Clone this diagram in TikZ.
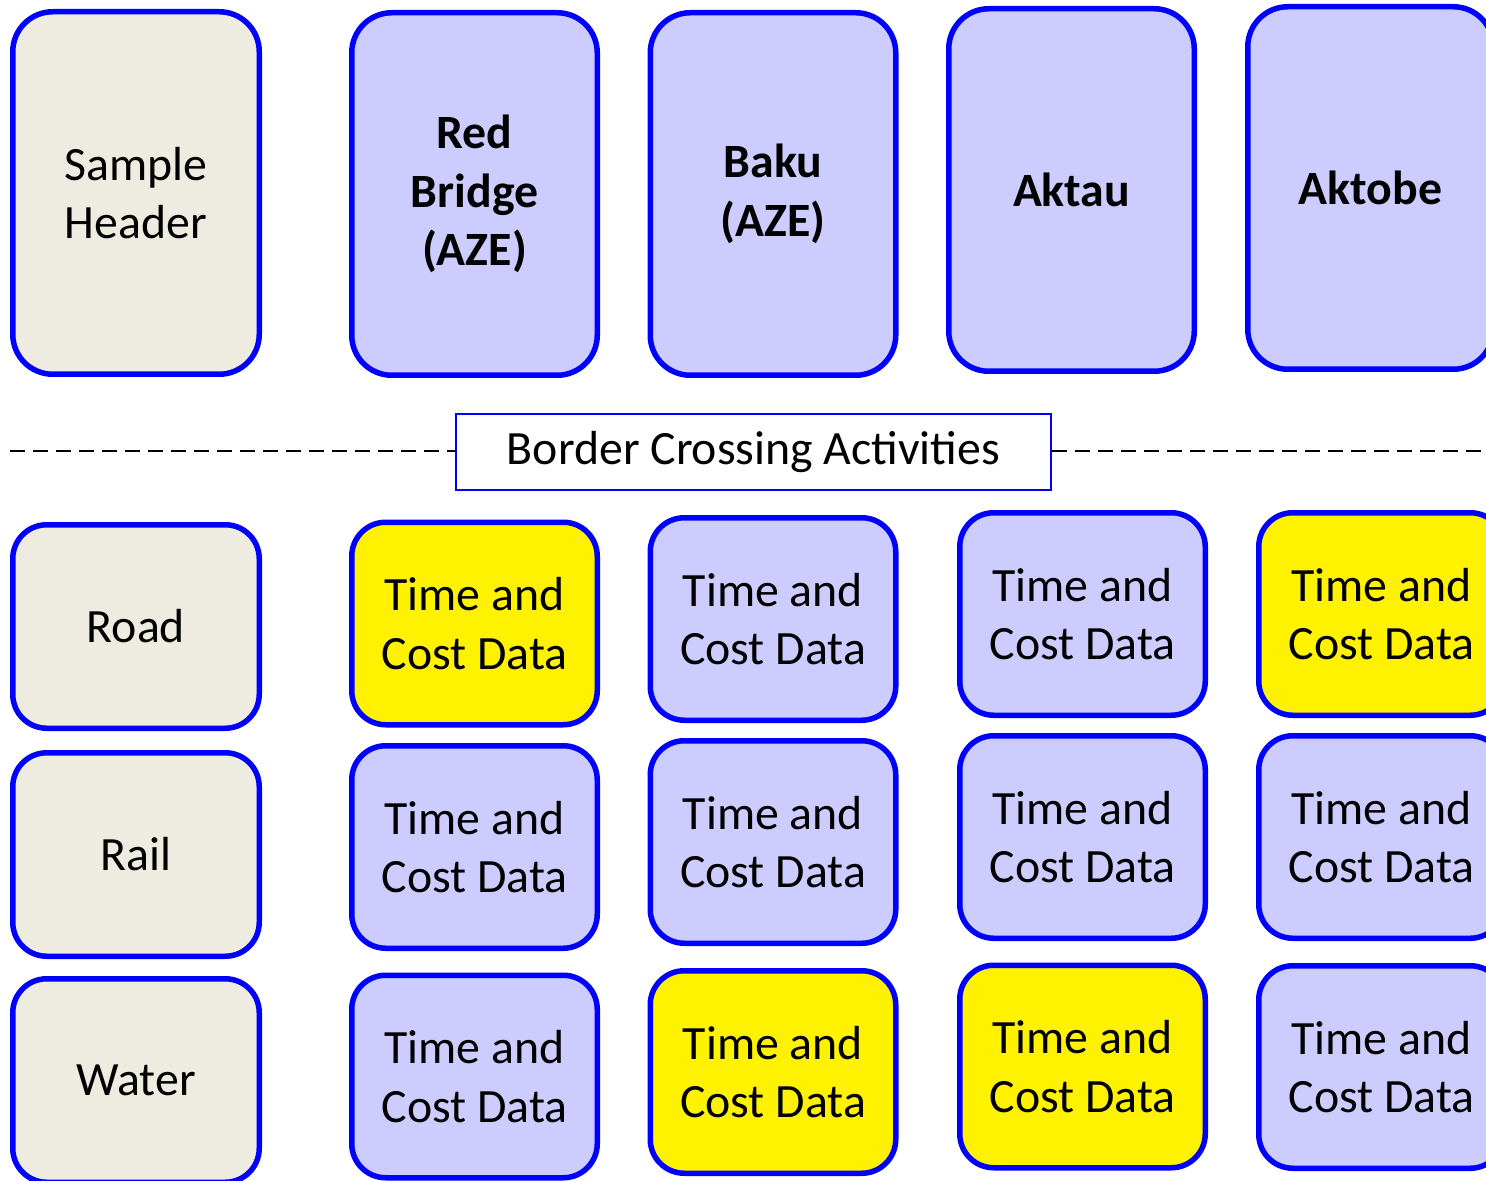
\documentclass[tikz,border=0pt]{standalone}
\usepackage{fontspec}
\setmainfont{Carlito}
\definecolor{modefill}{RGB}{238,236,225}
\definecolor{sitefill}{RGB}{204,204,255}
\definecolor{boxblue}{RGB}{0,0,255}

\begin{document}
\begin{tikzpicture}[x=0.5pt,y=-0.5pt,
  roundbox/.style={draw=boxblue,line width=2.75pt,rounded corners=17pt,align=center,inner sep=0pt,font=\fontsize{23.9}{29.3}\selectfont},
  modebox/.style={roundbox,fill=modefill,minimum width=123.25pt,minimum height=101.75pt},
  sitebox/.style={roundbox,fill=sitefill,minimum width=122.75pt,minimum height=181.25pt,rounded corners=20pt,font=\fontsize{23.9}{29.3}\selectfont\bfseries},
  databox/.style={roundbox,fill=sitefill,minimum width=122.75pt,minimum height=101.25pt},
  hotbox/.style={databox,fill=yellow},
  divider/.style={draw=black,line width=0.9pt,dash pattern=on 7.5pt off 4pt}]
\useasboundingbox (0,0) rectangle (1486,1181);

% header row
\node[roundbox,fill=modefill,minimum width=123.25pt,minimum height=181.25pt,rounded corners=20pt] (sample) at (136,193) {Sample\\Header};
\node[sitebox] (redbridge) at (474.5,194) {Red\\Bridge\\(AZE)};
\node[sitebox] (baku) at (773,194) {Baku\\(AZE)};
\node[sitebox] (aktau) at (1071.5,190) {Aktau};
\node[sitebox] (aktobe) at (1370.5,188) {Aktobe};

% divider
\node[draw=boxblue,line width=1pt,fill=white,minimum width=297.5pt,minimum height=38pt,inner sep=0pt,font=\fontsize{23.9}{29.3}\selectfont] (border) at (753.5,452) {Border Crossing Activities};
\coordinate (dl) at (10,451);
\coordinate (dr) at (1486,451);
\path[divider] (dl) -- (dl -| border.west);
\path[divider] (dr -| border.east) -- (dr);

% road
\node[modebox] (road) at (136,626.5) {Road};
\node[hotbox] (road1) at (474.5,623.5) {Time and\\Cost Data};
\node[databox] (road2) at (773,619) {Time and\\Cost Data};
\node[databox] (road3) at (1082.5,614) {Time and\\Cost Data};
\node[hotbox] (road4) at (1381.5,614) {Time and\\Cost Data};

% rail
\node[modebox] (rail) at (136,854.5) {Rail};
\node[databox] (rail1) at (474.5,847) {Time and\\Cost Data};
\node[databox] (rail2) at (773,842) {Time and\\Cost Data};
\node[databox] (rail3) at (1082.5,837) {Time and\\Cost Data};
\node[databox] (rail4) at (1381.5,837) {Time and\\Cost Data};

% water
\node[modebox] (water) at (136,1080.5) {Water};
\node[databox] (water1) at (474.5,1076.5) {Time and\\Cost Data};
\node[hotbox] (water2) at (773,1072) {Time and\\Cost Data};
\node[hotbox] (water3) at (1082.5,1066.5) {Time and\\Cost Data};
\node[databox] (water4) at (1381.5,1067) {Time and\\Cost Data};
\end{tikzpicture}
\end{document}
